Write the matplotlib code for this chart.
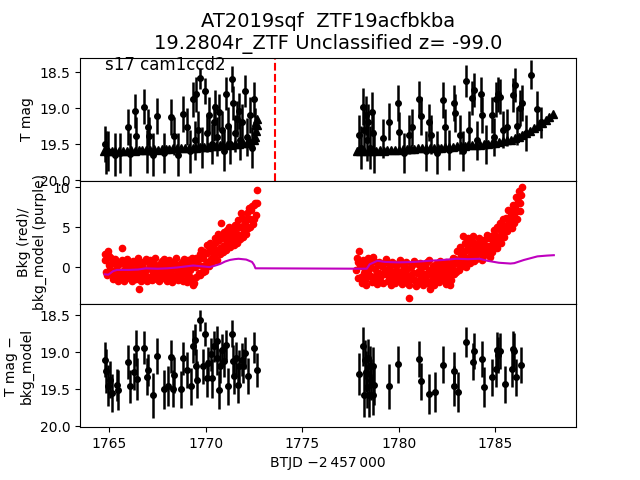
import numpy as np
import matplotlib
matplotlib.use("Agg")
import matplotlib.pyplot as plt

# detections (top panel): time, T mag, error
top_t = [1764.77, 1764.85, 1764.95, 1765.30, 1765.55, 1765.98, 1766.05, 1766.32, 1766.36, 1766.81,
         1766.95, 1767.01, 1767.05, 1767.27, 1767.45, 1767.85, 1768.22, 1768.34, 1768.55, 1768.80,
         1769.04, 1769.20, 1769.35, 1769.45, 1769.52, 1769.60, 1769.69, 1769.80, 1769.95, 1770.05,
         1770.15, 1770.30, 1770.42, 1770.50, 1770.60, 1770.70, 1770.85, 1770.95, 1771.04, 1771.15,
         1771.25, 1771.34, 1771.39, 1771.50, 1771.60, 1771.73, 1771.80, 1771.90, 1772.06, 1772.15,
         1772.30, 1772.40, 1772.51, 1772.58,
         1777.96, 1778.05, 1778.13, 1778.22, 1778.30, 1778.37, 1778.44, 1778.52, 1778.60, 1778.68,
         1778.75, 1779.20, 1779.51, 1779.98, 1780.02, 1780.30, 1780.55, 1780.70, 1781.07, 1781.14,
         1781.40, 1781.59, 1781.70, 1782.00, 1782.31, 1782.40, 1782.60, 1782.87, 1782.93, 1783.20,
         1783.35, 1783.49, 1783.65, 1783.79, 1783.90, 1784.05, 1784.27, 1784.35, 1784.55, 1784.82,
         1784.95, 1785.05, 1785.17, 1785.25, 1785.40, 1785.60, 1785.91, 1786.03, 1786.15, 1786.30,
         1786.38, 1786.60, 1786.86, 1787.16, 1787.40]
top_mag = [19.50, 19.62, 19.60, 19.65, 19.62, 19.26, 19.64, 19.04, 19.39, 18.98,
           19.60, 19.26, 19.39, 19.65, 19.11, 19.62, 19.13, 19.39, 19.65, 19.08,
           19.26, 19.60, 18.88, 19.45, 18.81, 19.30, 18.59, 19.55, 18.76, 19.35,
           19.10, 19.50, 19.20, 18.99, 19.40, 19.05, 19.30, 19.60, 18.80, 19.25,
           19.50, 18.60, 18.93, 19.35, 19.15, 19.04, 19.45, 19.20, 18.76, 19.40,
           19.10, 19.55, 18.88, 19.25,
           19.37, 19.55, 18.98, 19.30, 19.10, 19.45, 19.20, 19.55, 19.05, 19.35,
           19.60, 19.42, 19.19, 18.93, 19.33, 19.62, 19.37, 19.27, 18.88, 19.11,
           19.60, 19.20, 19.37, 19.62, 18.89, 19.27, 19.58, 18.93, 19.07, 19.37,
           19.60, 18.62, 19.30, 18.86, 18.75, 19.45, 18.81, 19.10, 19.50, 19.09,
           19.40, 18.88, 18.81, 18.84, 19.30, 19.27, 18.82, 18.68, 19.25, 19.00,
           18.93, 19.35, 18.54, 19.02, 19.20]
top_err = [0.25, 0.30, 0.28, 0.30, 0.28, 0.25, 0.30, 0.24, 0.26, 0.24,
           0.30, 0.25, 0.26, 0.30, 0.25, 0.28, 0.25, 0.26, 0.30, 0.25,
           0.26, 0.30, 0.24, 0.27, 0.24, 0.26, 0.14, 0.28, 0.18, 0.26,
           0.25, 0.28, 0.26, 0.24, 0.27, 0.25, 0.26, 0.28, 0.23, 0.26,
           0.27, 0.18, 0.24, 0.26, 0.25, 0.25, 0.27, 0.25, 0.22, 0.26,
           0.25, 0.28, 0.24, 0.25,
           0.28, 0.30, 0.26, 0.28, 0.27, 0.28, 0.26, 0.30, 0.27, 0.28,
           0.30, 0.27, 0.26, 0.25, 0.27, 0.28, 0.27, 0.26, 0.25, 0.26,
           0.28, 0.26, 0.27, 0.30, 0.25, 0.26, 0.28, 0.25, 0.26, 0.27,
           0.28, 0.22, 0.26, 0.24, 0.23, 0.27, 0.24, 0.25, 0.27, 0.25,
           0.26, 0.24, 0.24, 0.24, 0.26, 0.26, 0.24, 0.23, 0.26, 0.25,
           0.25, 0.25, 0.20, 0.25, 0.22]

# limiting magnitudes (triangles)
lim_t = [1764.72, 1764.92, 1765.12, 1765.32, 1765.52, 1765.72, 1765.92, 1766.12, 1766.32, 1766.52,
         1766.72, 1766.92, 1767.12, 1767.32, 1767.52, 1767.72, 1767.92, 1768.12, 1768.32, 1768.52,
         1768.72, 1768.92, 1769.12, 1769.32, 1769.52, 1769.72, 1769.92, 1770.12, 1770.32, 1770.52,
         1770.72, 1770.92, 1771.12, 1771.32, 1771.52, 1771.72, 1771.92, 1772.12, 1772.32, 1772.52,
         1772.58, 1772.62, 1772.65, 1772.68,
         1777.82, 1778.02, 1778.22, 1778.42, 1778.62, 1778.82, 1779.02, 1779.22, 1779.42, 1779.62,
         1779.82, 1780.02, 1780.22, 1780.42, 1780.62, 1780.82, 1781.02, 1781.22, 1781.42, 1781.62,
         1781.82, 1782.02, 1782.22, 1782.42, 1782.62, 1782.82, 1783.02, 1783.22, 1783.42, 1783.62,
         1783.82, 1784.02, 1784.22, 1784.42, 1784.62, 1784.82, 1785.02, 1785.22, 1785.42, 1785.62,
         1785.82, 1786.02, 1786.22, 1786.42, 1786.62, 1786.82, 1787.02, 1787.22, 1787.42, 1787.62,
         1787.82, 1788.02]
lim_mag = [19.59, 19.60, 19.59, 19.59, 19.60, 19.59, 19.59, 19.58, 19.59, 19.58,
           19.58, 19.58, 19.58, 19.57, 19.58, 19.57, 19.57, 19.57, 19.56, 19.56,
           19.56, 19.55, 19.56, 19.55, 19.55, 19.54, 19.54, 19.54, 19.53, 19.53,
           19.52, 19.52, 19.51, 19.51, 19.50, 19.50, 19.49, 19.48, 19.47, 19.45,
           19.40, 19.32, 19.24, 19.15,
           19.59, 19.59, 19.60, 19.59, 19.59, 19.59, 19.58, 19.59, 19.58, 19.58,
           19.58, 19.58, 19.57, 19.57, 19.57, 19.57, 19.56, 19.56, 19.56, 19.56,
           19.55, 19.55, 19.55, 19.54, 19.54, 19.54, 19.53, 19.53, 19.53, 19.52,
           19.52, 19.51, 19.51, 19.50, 19.50, 19.49, 19.48, 19.47, 19.46, 19.45,
           19.44, 19.42, 19.40, 19.38, 19.35, 19.32, 19.28, 19.25, 19.21, 19.17,
           19.12, 19.08]

# background (red points)
bkg_t = [1764.76, 1764.84, 1764.92, 1765.00, 1765.08, 1765.16, 1765.24, 1765.32, 1765.40, 1765.48,
         1765.56, 1765.64, 1765.72, 1765.80, 1765.88, 1765.96, 1766.04, 1766.12, 1766.20, 1766.28,
         1766.36, 1766.44, 1766.52, 1766.60, 1766.68, 1766.76, 1766.84, 1766.92, 1767.00, 1767.08,
         1767.16, 1767.24, 1767.32, 1767.40, 1767.48, 1767.56, 1767.64, 1767.72, 1767.80, 1767.88,
         1767.96, 1768.04, 1768.12, 1768.20, 1768.28, 1768.36, 1768.44, 1768.52, 1768.60, 1768.68,
         1768.76, 1768.84, 1768.92, 1769.00, 1769.08, 1769.16, 1769.24, 1769.32, 1769.40, 1769.48,
         1769.56, 1769.64, 1769.72, 1769.80, 1769.88, 1769.96, 1770.04, 1770.12, 1770.20, 1770.28,
         1770.36, 1770.44, 1770.52, 1770.60, 1770.68, 1770.76, 1770.84, 1770.92, 1771.00, 1771.08,
         1771.16, 1771.24, 1771.32, 1771.40, 1771.48, 1771.56, 1771.64, 1771.72, 1771.80, 1771.88,
         1771.96, 1772.04, 1772.12, 1772.20, 1772.28, 1772.36, 1772.44, 1772.52, 1772.60, 1772.64, 1772.68,
         1764.80, 1764.88, 1764.96, 1765.04, 1765.12, 1765.20, 1765.28, 1765.36, 1765.44, 1765.52,
         1765.60, 1765.68, 1765.76, 1765.84, 1765.92, 1766.00, 1766.08, 1766.16, 1766.24, 1766.32,
         1766.40, 1766.48, 1766.56, 1766.64, 1766.72, 1766.80, 1766.88, 1766.96, 1767.04, 1767.12,
         1767.20, 1767.28, 1767.36, 1767.44, 1767.52, 1767.60, 1767.68, 1767.76, 1767.84, 1767.92,
         1768.00, 1768.08, 1768.16, 1768.24, 1768.32, 1768.40, 1768.48, 1768.56, 1768.64, 1768.72,
         1768.80, 1768.88, 1768.96, 1769.04, 1769.12, 1769.20, 1769.28, 1769.36, 1769.44, 1769.52,
         1769.60, 1769.68, 1769.76, 1769.84, 1769.92, 1770.00, 1770.08, 1770.16, 1770.24, 1770.32,
         1770.40, 1770.48, 1770.56, 1770.64, 1770.72, 1770.80, 1770.88, 1770.96, 1771.04, 1771.12,
         1771.20, 1771.28, 1771.36, 1771.44, 1771.52, 1771.60, 1771.68, 1771.76, 1771.84, 1771.92,
         1772.00, 1772.08, 1772.16, 1772.24, 1772.32, 1772.40, 1772.48, 1772.56,
         1777.80, 1777.88, 1777.96, 1778.04, 1778.12, 1778.20, 1778.28, 1778.36, 1778.44, 1778.52,
         1778.60, 1778.68, 1778.76, 1778.84, 1778.92, 1779.00, 1779.08, 1779.16, 1779.24, 1779.32,
         1779.40, 1779.48, 1779.56, 1779.64, 1779.72, 1779.80, 1779.88, 1779.96, 1780.04, 1780.12,
         1780.20, 1780.28, 1780.36, 1780.44, 1780.52, 1780.60, 1780.68, 1780.76, 1780.84, 1780.92,
         1781.00, 1781.08, 1781.16, 1781.24, 1781.32, 1781.40, 1781.48, 1781.56, 1781.64, 1781.72,
         1781.80, 1781.88, 1781.96, 1782.04, 1782.12, 1782.20, 1782.28, 1782.36, 1782.44, 1782.52,
         1782.60, 1782.68, 1782.76, 1782.84, 1782.92, 1783.00, 1783.08, 1783.16, 1783.24, 1783.32,
         1783.40, 1783.48, 1783.56, 1783.64, 1783.72, 1783.80, 1783.88, 1783.96, 1784.04, 1784.12,
         1784.20, 1784.28, 1784.36, 1784.44, 1784.52, 1784.60, 1784.68, 1784.76, 1784.84, 1784.92,
         1785.00, 1785.08, 1785.16, 1785.24, 1785.32, 1785.40, 1785.48, 1785.56, 1785.64, 1785.72,
         1785.80, 1785.88, 1785.96, 1786.04, 1786.12, 1786.20, 1786.28, 1786.36, 1786.40,
         1777.84, 1777.92, 1778.00, 1778.08, 1778.16, 1778.24, 1778.32, 1778.40, 1778.48, 1778.56,
         1778.64, 1778.72, 1778.80, 1778.88, 1778.96, 1779.04, 1779.12, 1779.20, 1779.28, 1779.36,
         1779.44, 1779.52, 1779.60, 1779.68, 1779.76, 1779.84, 1779.92, 1780.00, 1780.08, 1780.16,
         1780.24, 1780.32, 1780.40, 1780.48, 1780.56, 1780.64, 1780.72, 1780.80, 1780.88, 1780.96,
         1781.04, 1781.12, 1781.20, 1781.28, 1781.36, 1781.44, 1781.52, 1781.60, 1781.68, 1781.76,
         1781.84, 1781.92, 1782.00, 1782.08, 1782.16, 1782.24, 1782.32, 1782.40, 1782.48, 1782.56,
         1782.64, 1782.72, 1782.80, 1782.88, 1782.96, 1783.04, 1783.12, 1783.20, 1783.28, 1783.36,
         1783.44, 1783.52, 1783.60, 1783.68, 1783.76, 1783.84, 1783.92, 1784.00, 1784.08, 1784.16,
         1784.24, 1784.32, 1784.40, 1784.48, 1784.56, 1784.64, 1784.72, 1784.80, 1784.88, 1784.96,
         1785.04, 1785.12, 1785.20, 1785.28, 1785.36, 1785.44, 1785.52, 1785.60, 1785.68, 1785.76,
         1785.84, 1785.92, 1786.00, 1786.08, 1786.16, 1786.24, 1786.32]
bkg = [1.6, -0.6, 2.0, 0.3, 1.2, -0.9, 0.8, -0.8, 0.1, -1.2,
       0.6, 2.4, -0.5, 0.3, -1.3, 0.2, -0.9, 0.4, -0.2, -1.1,
       0.5, -0.7, -2.8, 0.0, -0.6, 0.7, -1.0, -0.3, 0.6, -1.2,
       0.1, -0.8, 0.4, -0.4, -1.5, 0.3, -0.7, 0.8, -0.2, -1.1,
       0.5, -0.6, 0.2, -1.3, -0.1, 0.7, -0.9, 0.3, -0.5, -1.4,
       0.6, -0.3, 0.1, -1.0, 0.9, -0.4, -1.6, 0.5, -2.0, 1.2,
       0.3, -0.8, 1.6, 0.2, 1.1, -0.5, 1.8, 0.7, 2.3, 1.0,
       2.6, 1.4, 3.1, 2.0, 3.4, 2.4, 3.9, 2.7, 3.5, 4.6,
       2.9, 4.0, 3.3, 4.8, 3.6, 4.3, 3.2, 5.1, 4.0, 6.2,
       4.6, 5.5, 6.8, 4.9, 6.0, 7.2, 5.4, 7.8, 6.5, 8.0, 9.7,
       0.9, -1.0, 1.4, -0.2, 0.5, -1.5, 1.0, -0.3, -1.7, 0.4,
       -0.9, 0.9, -1.8, -0.1, 1.0, -1.4, 0.0, -1.7, 0.8, -0.4,
       -1.5, 1.1, -0.9, -1.8, 0.2, -1.3, 1.0, -1.7, -0.1, 0.9,
       -1.6, -0.5, 1.1, -1.2, 0.0, -1.8, 0.5, -1.4, 1.0, -0.6,
       -1.7, 0.9, -0.8, -1.9, 0.4, -1.2, 1.1, -1.6, 0.2, -0.9,
       -1.8, 1.0, -0.6, -1.9, 0.3, -1.2, 1.1, -2.2, 0.0, -1.3,
       0.9, -1.0, 2.2, -0.6, 1.9, 0.4, 2.8, 0.1, 3.0, 0.6,
       1.8, 3.6, 0.9, 4.2, 1.6, 5.5, 1.9, 4.4, 2.2, 3.8,
       5.0, 2.5, 4.3, 2.8, 5.3, 3.0, 5.9, 3.5, 6.8, 3.8,
       5.3, 4.2, 6.1, 7.4, 5.0, 7.7, 6.0, 8.1,
       -0.3, 0.6, 2.0, -1.2, 0.2, -0.8, -1.6, 0.4, -0.5, -1.1,
       0.9, 1.3, -0.2, -1.4, 0.3, -0.7, -1.9, 0.1, -0.9, 0.6,
       -0.4, -1.3, 0.2, -0.8, -1.7, 0.4, -0.3, -1.1, 0.5, -0.6,
       -1.5, 0.1, -0.9, -0.2, -3.9, -1.2, 0.3, -0.7, -1.6, -2.4,
       0.4, -0.5, -1.3, 0.0, -0.9, -1.8, 0.6, -0.4, -2.7, -1.0,
       0.2, -0.6, -1.5, 0.5, -0.3, -1.1, 0.3, -0.8, -2.1, 0.1,
       -0.5, -2.2, 0.6, -0.2, 1.0, -0.6, 0.8, 0.0, 1.5, 3.9,
       0.6, 2.1, 1.1, 2.8, 0.5, 3.3, 1.7, 2.4, 1.0, 3.0,
       1.9, 2.6, 1.4, 3.4, 2.2, 1.6, 3.7, 2.5, 1.9, 3.2,
       4.0, 2.4, 3.5, 4.6, 3.0, 5.3, 3.8, 6.2, 4.5, 5.6,
       7.0, 4.9, 6.4, 7.6, 6.0, 8.3, 7.1, 9.0, 10.0,
       1.1, -1.4, 0.3, -2.0, 0.9, -0.4, -2.2, 1.2, -1.0, 0.0,
       -1.9, 0.8, -1.1, -2.1, 0.6, -1.3, 0.2, -2.0, -0.5, 1.0,
       -1.8, -0.1, -2.2, 0.7, -1.0, -2.0, 0.3, -1.6, 0.9, -2.1,
       -0.4, -1.9, 0.6, -1.4, -2.3, 0.0, -1.5, 0.8, -1.9, -0.7,
       -2.0, 0.5, -1.6, -2.2, 0.2, -1.1, -2.0, 0.9, -1.7, -0.2,
       -2.3, 0.4, -1.2, -1.9, 0.8, -1.5, -0.4, -1.8, 0.7, -1.3,
       0.2, -1.6, 1.2, -0.9, 0.5, 2.0, -0.3, 2.5, 0.2, 1.8,
       3.0, 0.0, 3.6, 1.4, 2.0, 3.9, 0.8, 2.9, 1.6, 3.6,
       2.3, 0.9, 3.1, 1.8, 4.0, 2.7, 1.3, 3.9, 2.9, 4.6,
       3.2, 5.1, 3.8, 5.6, 4.2, 6.0, 4.7, 5.2, 7.2, 5.8,
       6.6, 7.8, 5.5, 8.8, 7.0, 9.6, 8.0]

# background model (purple line)
model_t = [1764.76, 1764.95, 1765.20, 1765.40, 1766.00, 1766.50, 1766.90, 1767.50, 1768.00, 1768.50,
           1769.00, 1769.35, 1769.80, 1770.20, 1770.50, 1770.75, 1771.00, 1771.25, 1771.50, 1771.70,
           1772.10, 1772.40, 1772.50, 1772.58, 1772.90, 1778.20, 1778.35, 1778.50, 1778.90, 1779.30,
           1780.00, 1780.80, 1781.60, 1782.30, 1783.00, 1783.60, 1784.20, 1784.60, 1785.20, 1785.80,
           1786.00, 1786.50, 1787.20, 1787.70, 1788.05]
model = [-0.9, -0.95, -0.5, -0.35, -0.35, -0.3, -0.15, -0.2, -0.15, -0.05,
         0.1, 0.2, 0.1, 0.0, 0.2, 0.4, 0.7, 0.9, 1.0, 1.05,
         0.95, 0.65, 0.3, -0.15, -0.15, -0.2, -0.2, 0.35, 0.8, 0.65,
         0.6, 0.65, 0.8, 0.9, 1.05, 1.0, 1.05, 0.8, 0.55, 0.45,
         0.5, 0.9, 1.35, 1.45, 1.5]

# T mag - bkg_model (bottom panel)
sub_t = [1764.77, 1764.85, 1764.95, 1765.03, 1765.12, 1765.40, 1765.46, 1765.98, 1766.06, 1766.29,
         1766.36, 1766.41, 1766.81, 1766.93, 1767.00, 1767.27, 1767.45, 1767.84, 1768.05, 1768.22,
         1768.28, 1768.36, 1768.74, 1768.83, 1769.04, 1769.26, 1769.35, 1769.43, 1769.52, 1769.55,
         1769.69, 1769.85, 1769.95, 1770.04, 1770.12, 1770.26, 1770.35, 1770.42, 1770.56, 1770.61,
         1770.70, 1770.73, 1770.85, 1770.93, 1771.04, 1771.13, 1771.34, 1771.39, 1771.46, 1771.56,
         1771.66, 1771.73, 1771.86, 1771.94, 1772.06, 1772.20, 1772.51, 1772.64,
         1777.96, 1778.16, 1778.22, 1778.25, 1778.30, 1778.37, 1778.42, 1778.48, 1778.52, 1778.58,
         1778.65, 1778.65, 1778.72, 1779.51, 1779.98, 1781.07, 1781.14, 1781.59, 1781.90, 1782.31,
         1782.87, 1782.87, 1783.09, 1783.49, 1783.84, 1783.90, 1784.30, 1784.44, 1784.82, 1785.05,
         1785.11, 1785.15, 1785.25, 1785.51, 1785.89, 1785.94, 1786.00, 1786.07, 1786.36]
sub_mag = [19.10, 19.25, 19.45, 19.37, 19.55, 19.44, 19.51, 19.13, 19.46, 19.26,
           18.94, 19.36, 18.94, 19.33, 19.24, 19.58, 19.05, 19.50, 19.46, 19.06,
           19.49, 19.31, 19.50, 19.08, 19.24, 19.46, 18.92, 18.83, 19.18, 19.37,
           18.57, 19.19, 18.75, 19.35, 19.15, 19.03, 19.35, 18.92, 19.08, 18.85,
           19.51, 19.19, 18.97, 19.12, 18.90, 19.46, 18.75, 19.12, 19.32, 19.08,
           19.44, 19.19, 19.10, 19.19, 19.01, 19.32, 18.94, 19.24,
           19.29, 18.92, 19.57, 19.10, 19.26, 19.47, 19.08, 19.57, 19.19, 19.37,
           19.19, 19.57, 19.44, 19.46, 19.16, 19.09, 19.39, 19.56, 19.54, 19.17,
           19.25, 19.45, 19.54, 18.86, 19.13, 18.98, 19.09, 19.47, 19.34, 19.22,
           18.97, 19.04, 18.98, 19.43, 19.22, 18.96, 18.98, 19.34, 19.17]
sub_err = [0.24, 0.30, 0.28, 0.25, 0.26, 0.22, 0.27, 0.23, 0.22, 0.25,
           0.24, 0.28, 0.22, 0.25, 0.22, 0.30, 0.24, 0.26, 0.27, 0.22,
           0.25, 0.24, 0.25, 0.22, 0.24, 0.25, 0.22, 0.21, 0.23, 0.25,
           0.14, 0.24, 0.16, 0.25, 0.22, 0.22, 0.26, 0.21, 0.22, 0.20,
           0.26, 0.23, 0.21, 0.22, 0.20, 0.25, 0.18, 0.22, 0.24, 0.22,
           0.25, 0.22, 0.22, 0.23, 0.21, 0.24, 0.21, 0.23,
           0.28, 0.26, 0.30, 0.26, 0.27, 0.28, 0.26, 0.30, 0.27, 0.28,
           0.26, 0.28, 0.27, 0.30, 0.25, 0.24, 0.25, 0.27, 0.27, 0.25,
           0.25, 0.27, 0.27, 0.20, 0.25, 0.24, 0.24, 0.27, 0.25, 0.25,
           0.24, 0.24, 0.24, 0.25, 0.25, 0.24, 0.24, 0.25, 0.24]

disc_t = 1773.58

fig, (ax1, ax2, ax3) = plt.subplots(3, 1, sharex=True, figsize=(6.4, 4.8), dpi=100)
fig.subplots_adjust(hspace=0)

ax1.errorbar(lim_t, lim_mag, fmt='k^', ms=6)
ax1.errorbar(top_t, top_mag, yerr=top_err, fmt='ko', ms=4, elinewidth=1.8)
ax1.axvline(disc_t, color='r', ls='--', lw=1.5)
ax1.set_ylim(20.01, 18.30)
ax1.set_yticks([18.5, 19.0, 19.5, 20.0])
ax1.set_ylabel("T mag")
ax1.text(1764.77, 18.47, "s17 cam1ccd2", fontsize=12)
ax1.set_title("AT2019sqf  ZTF19acfbkba\n19.2804r_ZTF Unclassified z= -99.0", fontsize=14)

ax2.plot(bkg_t, bkg, 'ro', ms=4.5)
ax2.plot(model_t, model, 'm-', lw=1.5)
ax2.set_ylim(-4.63, 10.84)
ax2.set_yticks([0, 5, 10])
ax2.set_ylabel("Bkg (red)/\nbkg_model (purple)")

ax3.errorbar(sub_t, sub_mag, yerr=sub_err, fmt='ko', ms=4, elinewidth=1.8)
ax3.set_ylim(20.01, 18.35)
ax3.set_yticks([18.5, 19.0, 19.5, 20.0])
ax3.set_ylabel("T mag \u2212\nbkg_model")

ax3.set_xlim(1763.48, 1789.2)
ax3.set_xticks([1765, 1770, 1775, 1780, 1785])
ax3.set_xlabel("BTJD \u22122\u2009457\u2009000")

plt.savefig("out.png")
